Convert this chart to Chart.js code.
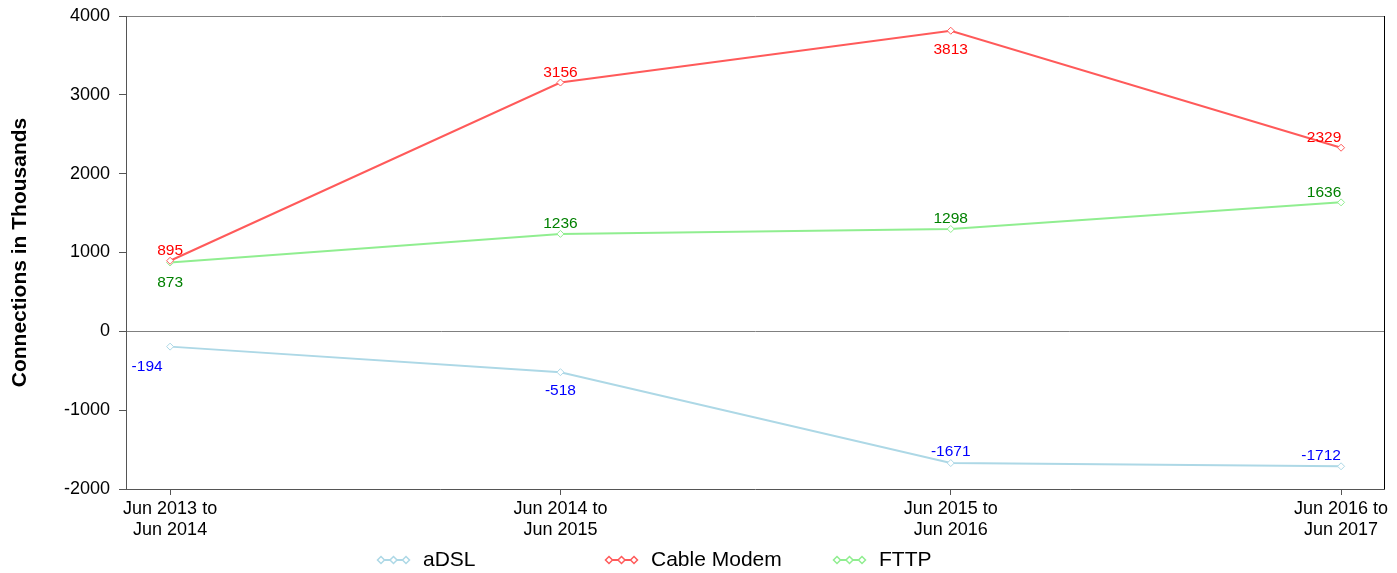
<!DOCTYPE html>
<html>
<head>
<meta charset="utf-8">
<script src="https://cdn.jsdelivr.net/npm/chart.js@4.4.1/dist/chart.umd.min.js"></script>
<style>
  html, body { margin: 0; padding: 0; background: #fff; }
  #wrap { width: 1397px; height: 573px; }
</style>
</head>
<body>
<div id="wrap"><canvas id="chart" width="1397" height="573"></canvas></div>
<script>
const periods = [['Jun 2013 to', 'Jun 2014'], ['Jun 2014 to', 'Jun 2015'], ['Jun 2015 to', 'Jun 2016'], ['Jun 2016 to', 'Jun 2017']];
const adsl = [-194, -518, -1671, -1712];
const cableModem = [895, 3156, 3813, 2329];
const fttp = [873, 1236, 1298, 1636];
const yTicks = [-2000, -1000, 0, 1000, 2000, 3000, 4000];

// where each value label sits relative to its point (dx, dy in px)
const labelOffsets = {
    aDSL: [[-23, 20], [0, 19], [0, -11], [-20, -11]],
    'Cable Modem': [[0, -10], [0, -10], [0, 19], [-17, -10]],
    FTTP: [[0, 20], [0, -10], [0, -10], [-17, -10]]
};

const FONT = '"Liberation Sans", Arial, sans-serif';

function series(label, values, line, text) {
    return {
        label,
        data: values.map((v, i) => ({ x: i, y: v })),
        borderColor: line,
        backgroundColor: '#ffffff',
        borderWidth: 2,
        pointStyle: 'rectRot',
        pointRadius: 3.5,
        pointBorderWidth: 1,
        pointBorderColor: line,
        pointBackgroundColor: '#ffffff',
        tension: 0,
        textColor: text
    };
}

const valueLabels = {
    id: 'valueLabels',
    afterDatasetsDraw(chart) {
        const ctx = chart.ctx;
        ctx.save();
        ctx.font = '15.5px ' + FONT;
        ctx.textAlign = 'center';
        ctx.textBaseline = 'middle';
        chart.data.datasets.forEach((ds, di) => {
            const meta = chart.getDatasetMeta(di);
            const offs = labelOffsets[ds.label];
            ctx.fillStyle = ds.textColor;
            meta.data.forEach((pt, i) => {
                ctx.fillText(String(ds.data[i].y), pt.x + offs[i][0], pt.y + offs[i][1]);
            });
        });
        ctx.restore();
    }
};

const frameAndLegend = {
    id: 'frameAndLegend',
    afterDraw(chart) {
        const ctx = chart.ctx;
        const a = chart.chartArea;
        ctx.save();
        ctx.strokeStyle = '#000';
        ctx.lineWidth = 1;
        ctx.beginPath();
        ctx.moveTo(Math.round(a.right) + 0.5, a.top);
        ctx.lineTo(Math.round(a.right) + 0.5, a.bottom);
        ctx.stroke();

        // legend: fixed-width columns, line with three diamonds
        const y = 560;
        let x = 378;
        ctx.font = '21px ' + FONT;
        ctx.textBaseline = 'middle';
        ctx.textAlign = 'left';
        chart.data.datasets.forEach(ds => {
            ctx.strokeStyle = ds.borderColor;
            ctx.lineWidth = 2;
            ctx.beginPath();
            ctx.moveTo(x, y);
            ctx.lineTo(x + 31, y);
            ctx.stroke();
            ctx.lineWidth = 1.5;
            [x + 3, x + 15.5, x + 28].forEach(px => {
                ctx.beginPath();
                ctx.moveTo(px, y - 3.5);
                ctx.lineTo(px + 3.5, y);
                ctx.lineTo(px, y + 3.5);
                ctx.lineTo(px - 3.5, y);
                ctx.closePath();
                ctx.fillStyle = '#fff';
                ctx.fill();
                ctx.stroke();
            });
            ctx.fillStyle = '#000';
            ctx.fillText(ds.label, x + 45, y);
            x += 228;
        });
        ctx.restore();
    }
};

new Chart(document.getElementById('chart'), {
    type: 'line',
    data: {
        datasets: [
            series('aDSL', adsl, '#add8e6', '#0000ff'),
            series('Cable Modem', cableModem, '#ff5a5a', '#ff0000'),
            series('FTTP', fttp, '#90ee90', '#008000')
        ]
    },
    plugins: [valueLabels, frameAndLegend],
    options: {
        responsive: false,
        animation: false,
        layout: { padding: { top: 16, right: 13, left: 0, bottom: 0 } },
        plugins: {
            legend: { display: false },
            tooltip: { enabled: false }
        },
        scales: {
            x: {
                type: 'linear',
                min: -0.113,
                max: 3.11,
                afterBuildTicks: scale => { scale.ticks = periods.map((p, i) => ({ value: i })); },
                afterFit: scale => {
                    scale.height = 84;
                    scale.paddingLeft = 0;
                    scale.paddingRight = 0;
                },
                ticks: {
                    callback: v => periods[v],
                    color: '#000',
                    font: { family: FONT, size: 18 },
                    padding: 3,
                    maxRotation: 0,
                    autoSkip: false
                },
                grid: { drawOnChartArea: false, tickLength: 6, color: '#555' },
                border: { color: '#555', width: 1 }
            },
            y: {
                min: -2000,
                max: 4000,
                afterBuildTicks: scale => { scale.ticks = yTicks.map(v => ({ value: v })); },
                afterFit: scale => {
                    scale.width = 126;
                    scale.paddingTop = 0;
                    scale.paddingBottom = 0;
                },
                ticks: {
                    callback: v => String(v),
                    color: '#000',
                    font: { family: FONT, size: 18 },
                    padding: 9
                },
                grid: {
                    tickLength: 7,
                    color: c => (c.tick && (c.tick.value === 0 || c.tick.value === 4000)) ? '#808080' : 'rgba(0,0,0,0)',
                    tickColor: '#555'
                },
                border: { color: '#555', width: 1 },
                title: {
                    display: true,
                    text: 'Connections in Thousands',
                    color: '#000',
                    font: { family: FONT, size: 21, weight: 'bold' },
                    padding: { top: 8, bottom: 0 }
                }
            }
        }
    }
});
</script>
</body>
</html>
